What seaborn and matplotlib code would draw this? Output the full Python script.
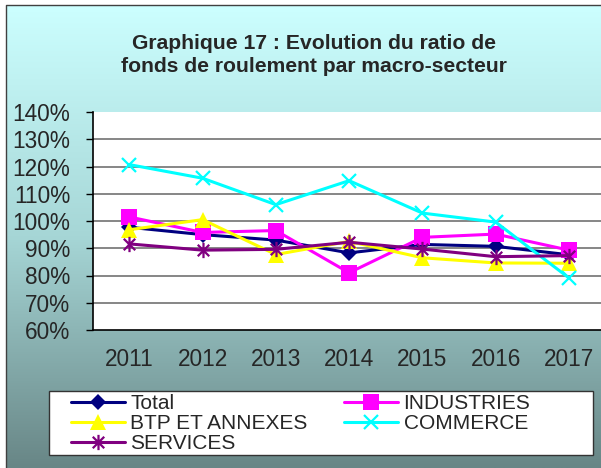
import numpy as np
import pandas as pd
import matplotlib
matplotlib.use("Agg")
import matplotlib.pyplot as plt
from matplotlib.path import Path
from matplotlib.patches import Rectangle
from matplotlib.colors import LinearSegmentedColormap
from matplotlib.ticker import FixedLocator
import seaborn as sns

years = ["2011", "2012", "2013", "2014", "2015", "2016", "2017"]
total = [97.7, 95.0, 93.0, 88.3, 91.4, 90.7, 87.6]
industries = [101.5, 95.8, 96.5, 81.0, 94.0, 95.2, 89.3]
btp = [96.8, 100.5, 87.7, 92.5, 86.5, 84.6, 84.5]
commerce = [120.7, 115.7, 106.0, 114.8, 102.9, 99.6, 79.1]
services = [91.6, 89.3, 89.6, 92.2, 89.7, 86.9, 87.3]
series_names = ["Total", "INDUSTRIES", "BTP ET ANNEXES", "COMMERCE", "SERVICES"]
y_ticks = [60, 70, 80, 90, 100, 110, 120, 130, 140]

df = pd.DataFrame({
    "annee": years * 5,
    "ratio": total + industries + btp + commerce + services,
    "secteur": [n for n in series_names for _ in years],
})

sns.set_style("white")
plt.rcParams["font.family"] = ["Liberation Sans", "DejaVu Sans"]

# asterisk marker like excel's
star = Path([(0, -1), (0, 1), (-0.75, -0.75), (0.75, 0.75), (-0.75, 0.75), (0.75, -0.75)],
            [Path.MOVETO, Path.LINETO] * 3)

styles = {
    "Total": dict(color="#000080", marker="D", markersize=8, markeredgewidth=0),
    "INDUSTRIES": dict(color="#FF00FF", marker="s", markersize=11, markeredgewidth=0),
    "BTP ET ANNEXES": dict(color="#FFFF00", marker="^", markersize=12, markeredgewidth=0),
    "COMMERCE": dict(color="#00FFFF", marker="x", markersize=10, markeredgewidth=1.6),
    "SERVICES": dict(color="#800080", marker=star, markersize=11, markeredgewidth=1.6),
}

fig = plt.figure(figsize=(6.01, 4.68), dpi=100)

# gradient background with border
bg = fig.add_axes([0, 0, 1, 1], zorder=-5)
bg.set_xlim(0, 601)
bg.set_ylim(468, 0)
bg.axis("off")
cmap = LinearSegmentedColormap.from_list("bg", ["#CCFFFF", "#A6D6D6", "#688686"])
grad = np.linspace(0, 1, 256).reshape(-1, 1)
bg.imshow(grad, cmap=cmap, aspect="auto", extent=(6, 601, 468, 5), zorder=0)
bg.plot([6, 6, 601], [468, 5, 5], color="#404040", lw=1, zorder=1)
# legend box
bg.add_patch(Rectangle((49, 391), 544, 64, facecolor="white", edgecolor="#333333", lw=1, zorder=2))

ax = fig.add_axes([92.6 / 601, 138 / 468, 513 / 601, 218 / 468])
ax.set_facecolor("white")

for name in ["Total", "INDUSTRIES", "BTP ET ANNEXES", "COMMERCE", "SERVICES"]:
    sub = df[df["secteur"] == name]
    st = styles[name]
    sns.lineplot(data=sub, x="annee", y="ratio", ax=ax, label=name, sort=False,
                 color=st["color"], marker=st["marker"], markersize=st["markersize"],
                 markeredgewidth=st["markeredgewidth"], markeredgecolor=st["color"],
                 linewidth=2.2)

for v in y_ticks[1:-1]:
    ax.axhline(v, color="#666666", lw=1.1, zorder=0.5)

ax.set_xlim(-0.5, 6.5)
ax.set_ylim(60, 140)
ax.set_yticks(y_ticks)
ax.set_yticklabels([f"{v}%" for v in y_ticks])
ax.xaxis.set_minor_locator(FixedLocator([i - 0.5 for i in range(len(years) + 1)]))
ax.tick_params(axis="x", which="major", length=0, pad=13, labelsize=16.3)
ax.tick_params(axis="x", which="minor", length=5, width=1, direction="out", color="black")
ax.tick_params(axis="y", which="major", length=5, width=1, direction="out", color="black",
               pad=11, labelsize=16.3, left=True)
ax.set_xlabel("")
ax.set_ylabel("")
for s in ["top", "right"]:
    ax.spines[s].set_visible(False)
for s in ["left", "bottom"]:
    ax.spines[s].set_color("black")
    ax.spines[s].set_linewidth(1.2)

fig.text(313.5 / 601, 1 - 55 / 468,
         "Graphique 17 : Evolution du ratio de\nfonds de roulement par macro-secteur",
         ha="center", va="center", fontsize=15.2, fontweight="bold", linespacing=1.25)

handles, labels = ax.get_legend_handles_labels()
order = [0, 2, 4, 1, 3]
leg = ax.legend([handles[i] for i in order], [labels[i] for i in order],
                ncol=2, loc="upper left",
                bbox_to_anchor=(71 / 601, 1 - 394 / 468),
                bbox_transform=fig.transFigure, borderaxespad=0, borderpad=0,
                fontsize=15, frameon=False, handlelength=2.6, handletextpad=0.25,
                labelspacing=0.05, columnspacing=1.75)
leg.set_zorder(5)

fig.savefig("out.png", dpi=100)
